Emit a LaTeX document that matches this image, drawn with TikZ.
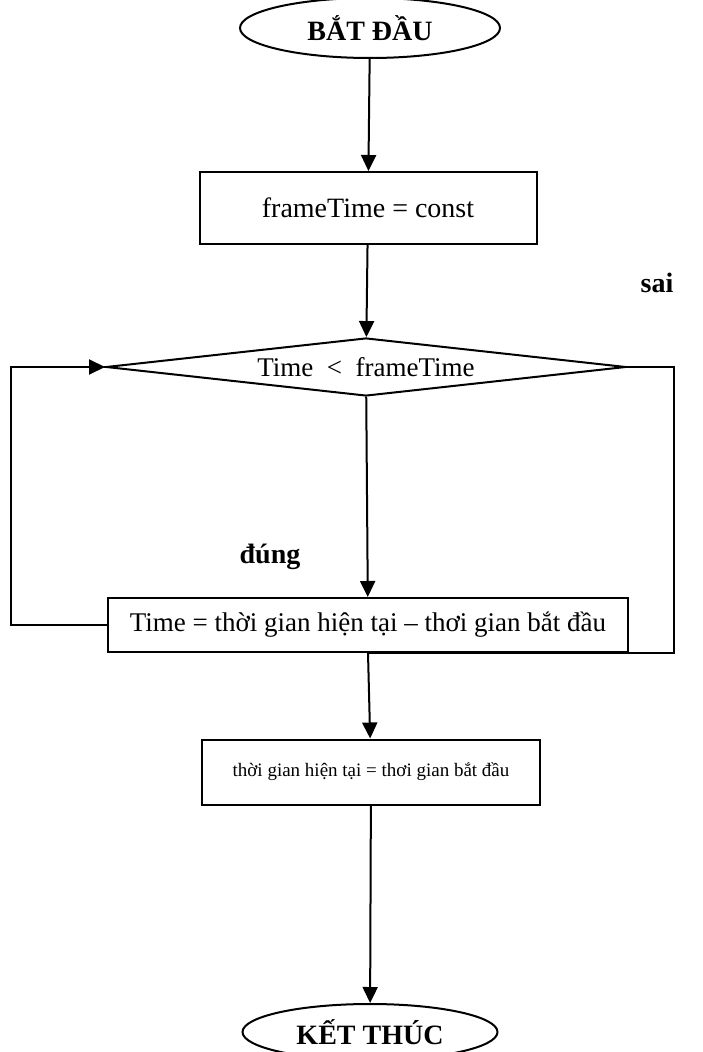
\documentclass[tikz,border=0pt]{standalone}
\usepackage{fontspec}
\setmainfont{Liberation Serif}
\usetikzlibrary{shapes.geometric,arrows.meta}

\tikzset{
    terminal/.style={draw, line width=1pt, ellipse, minimum width=130pt, minimum height=30pt, inner sep=0pt, font=\fontsize{14}{16}\selectfont\bfseries},
    stepbox/.style={draw, line width=1pt, rectangle, inner sep=0pt, font=\fontsize{13.5}{16}\selectfont},
    decision/.style={draw, line width=1pt, diamond, aspect=9, minimum width=260pt, minimum height=29pt, inner sep=0pt, font=\fontsize{13.5}{16}\selectfont},
    lbl/.style={font=\fontsize{14}{16}\selectfont\bfseries},
    arr/.style={line width=1pt, -{Triangle[width=7.5pt,length=8pt]}}
}

\begin{document}
\begin{tikzpicture}[x=0.5pt, y=-0.5pt]
        \clip (0, 0) rectangle (702, 1052);

        % Start and first step
        \node[terminal] (start) at (370, 28) {BẮT ĐẦU};
        \node[stepbox, minimum width=168.5pt, minimum height=36pt, font=\fontsize{14}{16}\selectfont] (init) at (368, 208) {frameTime = const};

        % Loop test
        \node[decision] (check) at (366, 367) {Time ~<~ frameTime};
        \node[lbl] at (657, 283) {sai};
        \node[lbl] at (270, 557) {đúng};
        \node[stepbox, minimum width=260pt, minimum height=27pt] (update) at (368, 625) {Time = thời gian hiện tại – thơi gian bắt đầu};

        % Reset and end
        \node[stepbox, minimum width=169pt, minimum height=32.5pt, font=\fontsize{9.5}{12}\selectfont] (reset) at (371, 772) {thời gian hiện tại = thơi gian bắt đầu};
        \node[terminal, minimum width=127.5pt, minimum height=28pt] (stop) at (370, 1032) {KẾT THÚC};

        \draw[arr] (start) -- (init);
        \draw[arr] (init) -- (check);
        \draw[arr] (check) -- (update);
        \draw[arr] (update.west) -- ++(-96, 0) |- (check.west);
        \draw[line width=1pt] (check.east) -- ++(47, 0) |- (update.south);
        \draw[arr] (update.south) -- (reset);
        \draw[arr] (reset) -- (stop);
    \end{tikzpicture}
\end{document}
